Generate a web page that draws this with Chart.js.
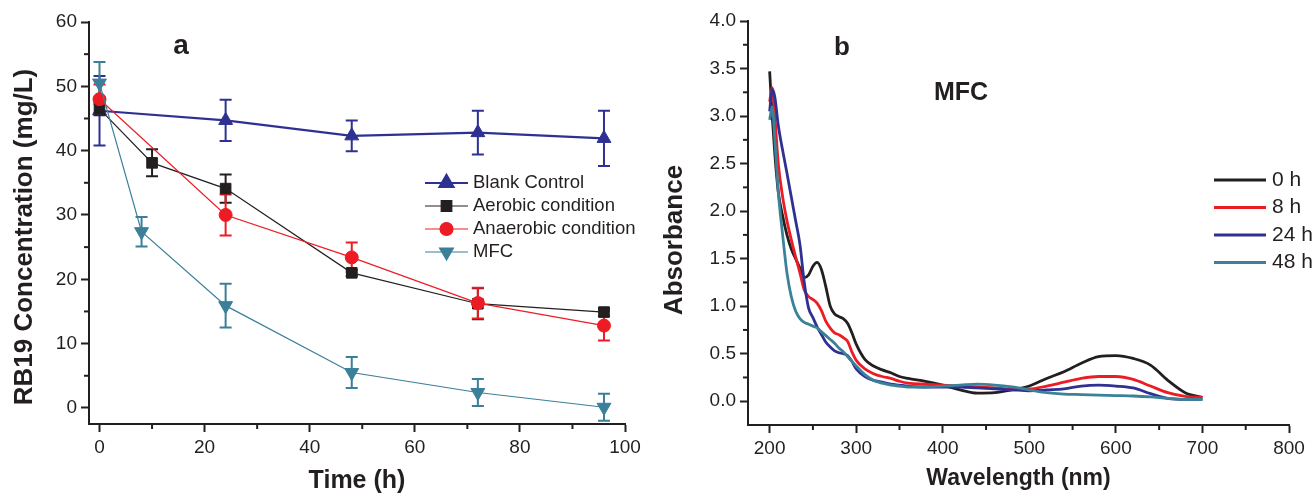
<!DOCTYPE html>
<html>
<head>
<meta charset="utf-8">
<script src="https://cdn.jsdelivr.net/npm/chart.js@4.4.1/dist/chart.umd.min.js"></script>
<style>
  html, body { margin: 0; padding: 0; background: #fff; }
  #wrap { position: relative; width: 1315px; height: 496px; overflow: hidden; }
  canvas { position: absolute; top: 0; }
  #chartA { left: 0; }
  #chartB { left: 660px; }
</style>
</head>
<body>
<div id="wrap">
  <canvas id="chartA" width="660" height="496"></canvas>
  <canvas id="chartB" width="655" height="496"></canvas>
</div>
<script>
// ---- panel a: RB19 concentration vs time ----
const blankTime = [0, 24, 48, 72, 96];
const blankConc = [46.2, 44.7, 42.3, 42.8, 41.9];
const blankErr  = [5.4, 3.2, 2.4, 3.4, 4.3];

const aerobicTime = [0, 10, 24, 48, 72, 96];
const aerobicConc = [46.5, 38.1, 34.1, 21.0, 16.2, 14.9];
const aerobicErr  = [1.0, 2.1, 2.2, 0.5, 2.4, 0.6];

const anaerobicTime = [0, 24, 48, 72, 96];
const anaerobicConc = [48.0, 30.0, 23.4, 16.3, 12.8];
const anaerobicErr  = [2.3, 3.2, 2.3, 2.4, 2.3];

const mfcTime = [0, 8, 24, 48, 72, 96];
const mfcConc = [50.5, 27.4, 15.9, 5.5, 2.4, 0.1];
const mfcErr  = [3.3, 2.3, 3.4, 2.4, 2.1, 2.1];

// ---- panel b: UV-vis spectra (MFC) ----
const wavelength = [200, 203, 206, 210, 215, 220, 225, 230, 235, 240, 245, 250, 255, 260, 265,
  270, 275, 280, 285, 290, 295, 300, 310, 320, 330, 340, 350, 360, 380, 400, 420, 440, 460,
  480, 500, 520, 540, 560, 580, 600, 620, 640, 660, 680, 700];
const abs0h = [3.47, 3.0, 2.6, 2.2, 1.95, 1.75, 1.6, 1.5, 1.4, 1.3, 1.33, 1.42, 1.46, 1.38, 1.2,
  1.0, 0.92, 0.89, 0.87, 0.82, 0.72, 0.6, 0.44, 0.37, 0.33, 0.3, 0.26, 0.24, 0.21, 0.17, 0.12, 0.085, 0.09,
  0.12, 0.16, 0.24, 0.31, 0.4, 0.47, 0.48, 0.45, 0.38, 0.22, 0.09, 0.04];
const abs8h = [3.15, 3.3, 3.0, 2.5, 2.15, 1.9, 1.7, 1.52, 1.35, 1.17, 1.1, 1.07, 1.03, 0.95, 0.84,
  0.77, 0.72, 0.7, 0.67, 0.63, 0.52, 0.43, 0.34, 0.29, 0.26, 0.24, 0.21, 0.19, 0.18, 0.17, 0.16, 0.15, 0.14,
  0.13, 0.13, 0.16, 0.2, 0.24, 0.26, 0.26, 0.23, 0.16, 0.09, 0.05, 0.04];
const abs24h = [3.05, 3.28, 3.2, 2.9, 2.64, 2.4, 2.15, 1.9, 1.65, 1.25, 0.98, 0.88, 0.78, 0.7, 0.62,
  0.57, 0.53, 0.51, 0.5, 0.48, 0.42, 0.34, 0.26, 0.22, 0.2, 0.18, 0.17, 0.16, 0.15, 0.15, 0.15, 0.14, 0.13,
  0.12, 0.11, 0.12, 0.13, 0.16, 0.17, 0.16, 0.14, 0.08, 0.03, 0.02, 0.02];
const abs48h = [2.96, 3.1, 2.75, 2.2, 1.75, 1.35, 1.1, 0.95, 0.87, 0.83, 0.81, 0.79, 0.77, 0.73, 0.69,
  0.65, 0.61, 0.56, 0.52, 0.47, 0.42, 0.37, 0.28, 0.22, 0.19, 0.17, 0.16, 0.15, 0.15, 0.16, 0.17, 0.18, 0.17,
  0.15, 0.12, 0.09, 0.075, 0.07, 0.065, 0.06, 0.055, 0.045, 0.03, 0.02, 0.02];

const INK = '#231f20';
const FONT = "'Liberation Sans', Arial, sans-serif";
Chart.defaults.font.family = FONT;
Chart.defaults.color = INK;

const pts = (xs, ys) => xs.map((x, i) => ({ x: x, y: ys[i] }));

// vertical error bars with caps, drawn under the markers
const errorBars = {
  id: 'errorBars',
  beforeDatasetsDraw(chart) {
    const ctx = chart.ctx, xs = chart.scales.x, ys = chart.scales.y;
    chart.data.datasets.forEach(ds => {
      if (!ds.errors) return;
      ctx.save();
      ctx.strokeStyle = ds.borderColor;
      ctx.lineWidth = 2;
      ds.data.forEach((p, j) => {
        const e = ds.errors[j];
        const x = xs.getPixelForValue(p.x);
        const y1 = ys.getPixelForValue(p.y + e);
        const y2 = ys.getPixelForValue(p.y - e);
        ctx.beginPath();
        ctx.moveTo(x, y1); ctx.lineTo(x, y2);
        ctx.moveTo(x - 6, y1); ctx.lineTo(x + 6, y1);
        ctx.moveTo(x - 6, y2); ctx.lineTo(x + 6, y2);
        ctx.stroke();
      });
      ctx.restore();
    });
  }
};

// short unlabelled ticks between the major ones
const minorTicks = {
  id: 'minorTicks',
  afterDraw(chart, args, opts) {
    const ctx = chart.ctx, area = chart.chartArea;
    ctx.save();
    ctx.strokeStyle = INK;
    ctx.lineWidth = 2;
    opts.x.forEach(v => {
      const px = chart.scales.x.getPixelForValue(v);
      ctx.beginPath(); ctx.moveTo(px, area.bottom); ctx.lineTo(px, area.bottom + 5); ctx.stroke();
    });
    opts.y.forEach(v => {
      const py = chart.scales.y.getPixelForValue(v);
      ctx.beginPath(); ctx.moveTo(area.left, py); ctx.lineTo(area.left - 5, py); ctx.stroke();
    });
    ctx.restore();
  }
};

// free text (panel letters, y titles) and a hand-placed legend
const extras = {
  id: 'extras',
  afterDraw(chart, args, opts) {
    const ctx = chart.ctx;
    ctx.save();
    ctx.fillStyle = INK;
    ctx.textAlign = 'center';
    ctx.textBaseline = 'middle';
    opts.texts.forEach(t => {
      ctx.save();
      ctx.font = t.font;
      ctx.translate(t.x, t.y);
      if (t.rotate) ctx.rotate(t.rotate);
      ctx.fillText(t.text, 0, 0);
      ctx.restore();
    });
    const lg = opts.legend;
    chart.data.datasets.forEach((ds, i) => {
      const y = lg.y + i * lg.gap;
      ctx.strokeStyle = ds.borderColor;
      ctx.lineWidth = lg.lineWidth || ds.borderWidth;
      ctx.beginPath(); ctx.moveTo(lg.x0, y); ctx.lineTo(lg.x1, y); ctx.stroke();
      if (ds.pointRadius) {
        ctx.fillStyle = ds.pointBackgroundColor;
        ctx.strokeStyle = ds.borderColor;
        Chart.helpers.drawPoint(ctx, {
          pointStyle: ds.pointStyle, rotation: ds.pointRotation || 0,
          radius: ds.pointRadius, borderWidth: 1
        }, (lg.x0 + lg.x1) / 2, y);
      }
      ctx.fillStyle = INK;
      ctx.font = lg.font;
      ctx.textAlign = 'left';
      ctx.fillText(ds.label, lg.textX, y);
    });
    ctx.restore();
  }
};

function axisStyle(min, max, step, labelFn, fitFn) {
  return {
    type: 'linear', min: min, max: max,
    border: { display: true, color: INK, width: 2 },
    grid: { drawOnChartArea: false, drawTicks: true, tickLength: 8, tickWidth: 2, tickColor: INK },
    ticks: { stepSize: step, includeBounds: false, color: INK, font: { size: 19 }, padding: 4,
      maxRotation: 0, callback: labelFn },
    afterFit: fitFn
  };
}

function series(label, data, errors, color, width, style, radius, rotation, order) {
  return {
    label: label, data: data, errors: errors,
    borderColor: color, backgroundColor: color, borderWidth: width,
    pointStyle: style, pointRadius: radius, pointRotation: rotation,
    pointBackgroundColor: color, pointBorderColor: color, pointBorderWidth: 1,
    tension: 0, order: order
  };
}

new Chart(document.getElementById('chartA'), {
  type: 'line',
  data: {
    datasets: [
      series('Blank Control', pts(blankTime, blankConc), blankErr, '#2e3192', 2.2, 'triangle', 8, 0, 4),
      series('Aerobic condition', pts(aerobicTime, aerobicConc), aerobicErr, INK, 1.2, 'rect', 7.5, 0, 3),
      series('Anaerobic condition', pts(anaerobicTime, anaerobicConc), anaerobicErr, '#ed1c24', 1.2, 'circle', 6.5, 0, 2),
      series('MFC', pts(mfcTime, mfcConc), mfcErr, '#3b7f99', 1.2, 'triangle', 8, 180, 1)
    ]
  },
  options: {
    responsive: false, animation: false,
    layout: { padding: { top: 22, right: 35, left: 0, bottom: 0 } },
    plugins: {
      legend: { display: false }, tooltip: { enabled: false },
      minorTicks: { x: [10, 30, 50, 70, 90], y: [5, 15, 25, 35, 45, 55] },
      extras: {
        texts: [
          { text: 'a', x: 181, y: 46, font: 'bold 28px ' + FONT },
          { text: 'RB19 Concentration (mg/L)', x: 25, y: 237, rotate: -Math.PI / 2, font: 'bold 26px ' + FONT }
        ],
        legend: { x0: 425, x1: 468, textX: 473, y: 183, gap: 23, font: '18.5px ' + FONT }
      }
    },
    scales: {
      x: Object.assign(axisStyle(-2, 100, 20, v => v, s => { s.height = 72; }), {
        title: { display: true, text: 'Time (h)', color: INK,
          font: { size: 25, weight: 'bold', lineHeight: 1 }, padding: { top: 0, bottom: 2 } }
      }),
      y: axisStyle(-2.5, 60, 10, v => v, s => { s.width = 89; })
    }
  },
  plugins: [errorBars, minorTicks, extras]
});

function spectrum(label, values, color, order) {
  return {
    label: label, data: pts(wavelength, values),
    borderColor: color, backgroundColor: color, borderWidth: 2.8,
    pointRadius: 0, cubicInterpolationMode: 'monotone', order: order
  };
}

new Chart(document.getElementById('chartB'), {
  type: 'line',
  data: {
    datasets: [
      spectrum('0 h', abs0h, INK, 4),
      spectrum('8 h', abs8h, '#ed1c24', 3),
      spectrum('24 h', abs24h, '#2e3192', 2),
      spectrum('48 h', abs48h, '#3b8299', 1)
    ]
  },
  options: {
    responsive: false, animation: false,
    layout: { padding: { top: 21, right: 26, left: 0, bottom: 0 } },
    plugins: {
      legend: { display: false }, tooltip: { enabled: false },
      minorTicks: { x: [250, 350, 450, 550, 650, 750], y: [0.25, 0.75, 1.25, 1.75, 2.25, 2.75, 3.25, 3.75] },
      extras: {
        texts: [
          { text: 'b', x: 182, y: 48, font: 'bold 26px ' + FONT },
          { text: 'MFC', x: 301, y: 93, font: 'bold 25px ' + FONT },
          { text: 'Absorbance', x: 15, y: 240, rotate: -Math.PI / 2, font: 'bold 26px ' + FONT }
        ],
        legend: { x0: 554, x1: 606, textX: 612, y: 180, gap: 27.5, lineWidth: 2.8, font: '21px ' + FONT }
      }
    },
    scales: {
      x: Object.assign(axisStyle(175, 800, 100, v => v, s => { s.height = 71; }), {
        title: { display: true, text: 'Wavelength (nm)', color: INK,
          font: { size: 23, weight: 'bold', lineHeight: 1 }, padding: { top: 0, bottom: 6 } }
      }),
      y: axisStyle(-0.25, 4, 0.5, v => v.toFixed(1), s => { s.width = 88; })
    }
  },
  plugins: [minorTicks, extras]
});
</script>
</body>
</html>
